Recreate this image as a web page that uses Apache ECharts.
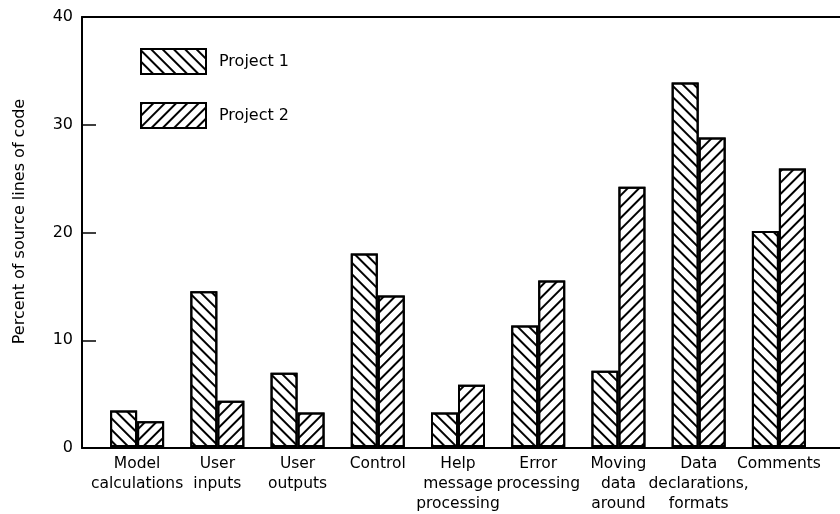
<!DOCTYPE html>
<html>
<head>
<meta charset="utf-8">
<script src="https://cdn.jsdelivr.net/npm/echarts@6/dist/echarts.min.js"></script>
<style>
  html, body { margin: 0; padding: 0; background: #fff; }
  #main { width: 840px; height: 514px; }
</style>
</head>
<body>
<div id="main"></div>
<script>
var categories = [
    'Model\ncalculations', 'User\ninputs', 'User\noutputs', 'Control',
    'Help\nmessage\nprocessing', 'Error\nprocessing', 'Moving\ndata\naround',
    'Data\ndeclarations,\nformats', 'Comments'
];
var project1 = [3.4, 14.5, 6.9, 18.0, 3.2, 11.3, 7.1, 33.9, 20.1];
var project2 = [2.4, 4.3, 3.2, 14.1, 5.8, 15.5, 24.2, 28.8, 25.9];
var yTicks = [0, 10, 20, 30, 40];

var font = '"DejaVu Sans", Verdana, sans-serif';

function hatch(rot) {
    return {
        symbol: 'rect',
        symbolSize: 1,
        color: '#000',
        dashArrayX: [1, 0],
        dashArrayY: [1.7, 5.5],
        rotation: rot
    };
}

var chart = echarts.init(document.getElementById('main'));

var option = {
    backgroundColor: '#fff',
    animation: false,
    textStyle: { fontFamily: font, color: '#000' },
    legend: {
        data: ['Project 1', 'Project 2'],
        orient: 'vertical',
        left: 140,
        top: 48,
        padding: 0,
        icon: 'rect',
        itemWidth: 65,
        itemHeight: 25,
        itemGap: 27,
        textStyle: { fontFamily: font, fontSize: 16, color: '#000', padding: [0, 0, 0, 8] }
    },
    grid: [
        { left: 82, right: 0, top: 17, bottom: 66 },
        { left: 97, right: 21, top: 17, bottom: 66 }
    ],
    xAxis: [
        {
            gridIndex: 0, type: 'value', position: 'bottom', min: 0, max: 1,
            axisLine: { show: true, lineStyle: { color: '#000', width: 2 } },
            axisTick: { show: false }, axisLabel: { show: false }, splitLine: { show: false }
        },
        {
            gridIndex: 0, type: 'value', position: 'top', min: 0, max: 1,
            axisLine: { show: true, lineStyle: { color: '#000', width: 2 } },
            axisTick: { show: false }, axisLabel: { show: false }, splitLine: { show: false }
        },
        {
            gridIndex: 1, type: 'category', data: categories,
            axisLine: { show: false }, axisTick: { show: false },
            axisLabel: {
                interval: 0, margin: 7, fontFamily: font, fontSize: 15.5,
                lineHeight: 20, color: '#000', verticalAlign: 'top'
            }
        }
    ],
    yAxis: [
        {
            gridIndex: 0, type: 'value',
            min: yTicks[0], max: yTicks[yTicks.length - 1], interval: 10,
            name: 'Percent of source lines of code',
            nameLocation: 'middle', nameGap: 54,
            nameTextStyle: { fontFamily: font, fontSize: 16, color: '#000', padding: [0, 0, 0, 22] },
            axisLine: { show: true, lineStyle: { color: '#000', width: 2 } },
            axisTick: { show: true, inside: true, length: 14, lineStyle: { color: '#000', width: 1.5 } },
            axisLabel: { margin: 9, fontFamily: font, fontSize: 16, color: '#000' },
            splitLine: { show: false }
        },
        {
            gridIndex: 1, type: 'value', min: 0, max: 40, show: false,
            splitLine: { show: false }
        }
    ],
    series: [
        {
            name: 'Project 1', type: 'bar', xAxisIndex: 2, yAxisIndex: 1,
            data: project1, barWidth: 27, barGap: '0%',
            itemStyle: { color: '#fff', borderColor: '#000', borderWidth: 2, decal: hatch(Math.PI / 4) }
        },
        {
            name: 'Project 2', type: 'bar', xAxisIndex: 2, yAxisIndex: 1,
            data: project2, barWidth: 27, barGap: '0%',
            itemStyle: { color: '#fff', borderColor: '#000', borderWidth: 2, decal: hatch(-Math.PI / 4) }
        }
    ]
};

chart.setOption(option);
</script>
</body>
</html>
